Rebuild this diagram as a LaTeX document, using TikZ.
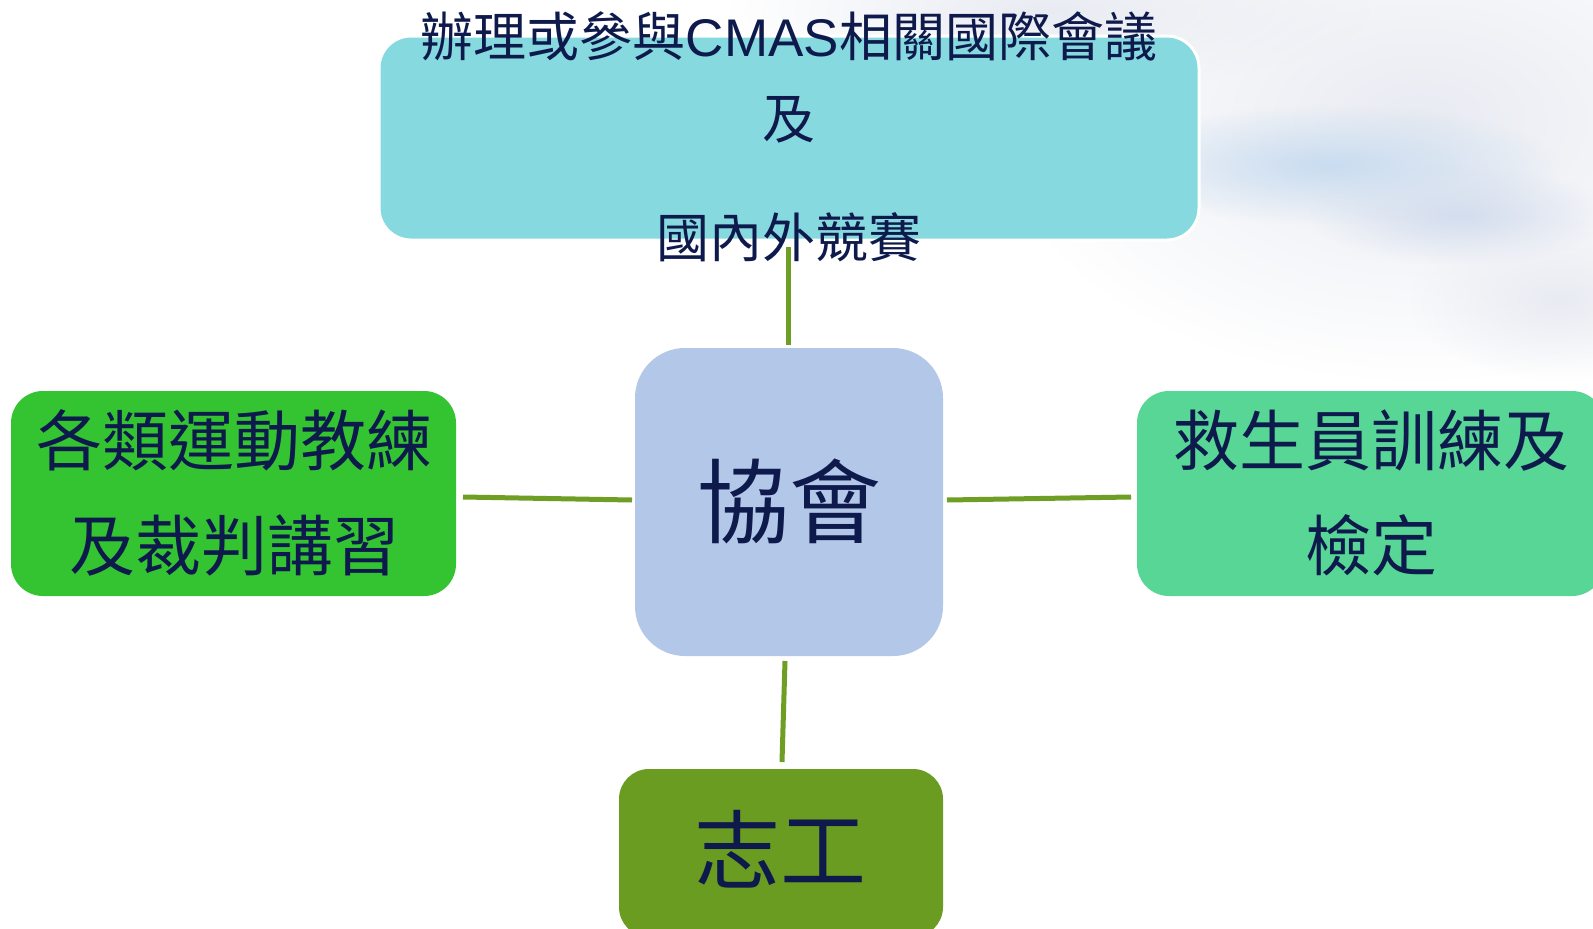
\documentclass[tikz,border=0pt]{standalone}
\usepackage{fontspec}
\usetikzlibrary{fadings}
\setmainfont{Noto Sans CJK TC}
\newfontfamily\latfont{Liberation Sans}
\tikzfading[name=softcirc, inner color=transparent!0, outer color=transparent!100]
\definecolor{txtc}{HTML}{0E1A4C}
\definecolor{topfill}{HTML}{86D9DE}
\definecolor{midfill}{HTML}{B3C7E8}
\definecolor{leftfill}{HTML}{34C432}
\definecolor{rightfill}{HTML}{57D696}
\definecolor{botfill}{HTML}{6A9C22}
\definecolor{linec}{HTML}{6E9F24}
\definecolor{cloudA}{HTML}{E8EBF2}
\definecolor{cloudB}{HTML}{C9DCF0}
\definecolor{cloudC}{HTML}{D3DDEE}
\begin{document}
\begin{tikzpicture}[x=1pt,y=-1pt,
  box/.style={rounded corners=#1, inner sep=0pt, outer sep=0pt},
  lbl/.style={text=txtc, align=center, inner sep=0pt},
  conn/.style={draw=linec, line width=5pt},
  cloud/.style={fill=#1, path fading=softcirc}]
\useasboundingbox (0,0) rectangle (1593,929);
\fill[white] (0,0) rectangle (1593,929);
% faint clouds
\fill[cloud=cloudA] (1420,120) ellipse (420 and 260);
\fill[cloud=cloudA] (1050,10) ellipse (320 and 80);
\fill[cloud=cloudB] (1330,165) ellipse (230 and 60);
\fill[cloud=cloudC] (1460,215) ellipse (150 and 50);
\fill[cloud=cloudA] (1560,300) ellipse (150 and 80);
% boxes
\node[box=32pt, fill=topfill, draw=white, line width=3pt, minimum width=820pt, minimum height=204pt] (top) at (789,138) {};
\node[lbl, font=\fontsize{53}{82}\selectfont] (toptext) at (789,136.5) {辦理或參與{\latfont CMAS}相關國際會議\\及\\[37pt]國內外競賽};
\node[box=50pt, fill=midfill, minimum width=308pt, minimum height=308pt] (mid) at (789,502) {};
\node[lbl, font=\fontsize{92}{92}\selectfont] (midtext) at (789,501) {協會};
\node[box=32pt, fill=leftfill, minimum width=445pt, minimum height=205pt] (left) at (233.5,493.5) {};
\node[lbl, font=\fontsize{66}{105}\selectfont] (lefttext) at (234,492.5) {各類運動教練\\及裁判講習};
\node[box=32pt, fill=rightfill, minimum width=467pt, minimum height=205pt] (right) at (1370.5,493.5) {};
\node[lbl, font=\fontsize{66}{105}\selectfont] (righttext) at (1371,492.5) {救生員訓練及\\檢定};
\node[box=30pt, fill=botfill, minimum width=324pt, minimum height=168pt] (bot) at (781,853) {};
\node[lbl, font=\fontsize{86}{86}\selectfont] (bottext) at (780,849) {志工};
% connector endpoints
\coordinate (t1) at (788,247);
\coordinate (t2) at (788,345);
\coordinate (l1) at (463,497);
\coordinate (l2) at (632,500);
\coordinate (r1) at (947,500);
\coordinate (r2) at (1131,497);
\coordinate (b1) at (785,661);
\coordinate (b2) at (782,762);
\draw[conn] (t1) -- (t2);
\draw[conn] (l1) -- (l2);
\draw[conn] (r1) -- (r2);
\draw[conn] (b1) -- (b2);
\end{tikzpicture}
\end{document}
